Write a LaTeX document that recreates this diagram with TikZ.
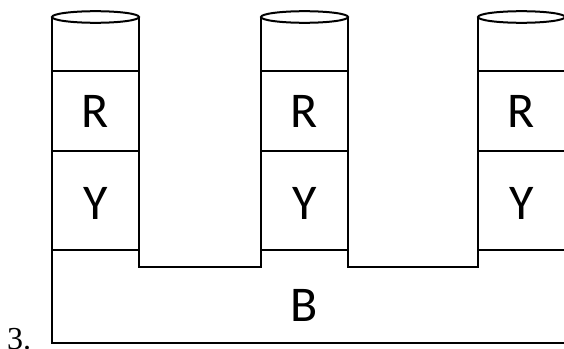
\documentclass[tikz,border=0pt]{standalone}
\usepackage{fontspec}
\setmainfont{Carlito}
\newfontfamily\numfont{Liberation Serif}
\begin{document}
\begin{tikzpicture}[x=1pt,y=-1pt,
  outline/.style={line width=2.2pt,line join=miter},
  cellline/.style={line width=1.6pt},
  lbl/.style={font=\fontsize{50}{50}\selectfont,inner sep=0pt,anchor=center},
  num/.style={font=\numfont\fontsize{32}{32}\selectfont,inner sep=0pt,anchor=base west}]
\useasboundingbox (0,0) rectangle (564,348);
\clip (0,0) rectangle (564,348);
% outline of base and columns
\draw[outline] (565,343) -- (52,343) -- (52,17) (139,17) -- (139,267) -- (261,267) -- (261,17)
  (348,17) -- (348,267) -- (478,267) -- (478,17) (565,17) -- (565,343);
% cylinder tops
\foreach \cx in {95.5,304.5,521.5}{
  \draw[outline,line width=2pt] (\cx,17) ellipse [x radius=43.5,y radius=5.8];
}
% cell lines
\foreach \lx in {52,261,478}{
  \draw[cellline] (\lx,71) -- ++(87,0);
  \draw[cellline] (\lx,151) -- ++(87,0);
  \draw[cellline] (\lx,250) -- ++(87,0);
}
\node[lbl] (r1) at (95.5,111) {R};
\node[lbl] (y1) at (95.5,203) {Y};
\node[lbl] (r2) at (304.5,111) {R};
\node[lbl] (y2) at (304.5,203) {Y};
\node[lbl] (r3) at (521.5,111) {R};
\node[lbl] (y3) at (521.5,203) {Y};
\node[lbl] (b) at (304.5,305) {B};
\node[num] (n) at (7,349) {3.};
\end{tikzpicture}
\end{document}
